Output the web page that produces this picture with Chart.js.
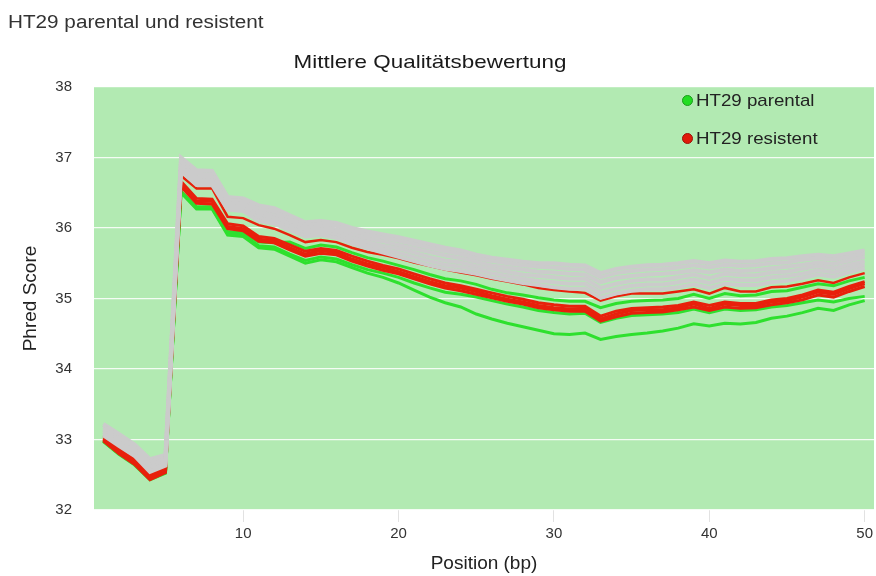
<!DOCTYPE html>
<html>
<head>
<meta charset="utf-8">
<script src="https://cdn.jsdelivr.net/npm/chart.js@4.4.1/dist/chart.umd.min.js"></script>
<style>
  html, body { margin: 0; padding: 0; background: #ffffff; }
  #wrap { position: relative; width: 876px; height: 576px; overflow: hidden; }
  #chart { position: absolute; left: 0; top: 0; }
  .txt { position: absolute; font-family: "Liberation Sans", Arial, sans-serif; white-space: nowrap; line-height: 20px; }
  #caption { left: 8px; top: 12px; font-size: 18px; color: #333; transform-origin: left center; transform: scaleX(1.15); }
  #title { left: 430px; top: 52px; font-size: 19px; color: #1a1a1a; transform: translateX(-50%) scaleX(1.18); }
  .leg { position: absolute; left: 682px; height: 20px; font-family: "Liberation Sans", Arial, sans-serif; font-size: 17px; color: #222; line-height: 20px; white-space: nowrap; }
  .leg .dot { position: absolute; left: 0; top: 4px; width: 11px; height: 11px; border-radius: 50%; box-sizing: border-box; }
  .leg .lab { position: absolute; left: 14px; top: 0; transform-origin: left center; transform: scaleX(1.1); }
</style>
</head>
<body>
<div id="wrap">
  <canvas id="chart" width="876" height="576"></canvas>
  <div id="caption" class="txt">HT29 parental und resistent</div>
  <div id="title" class="txt">Mittlere Qualitätsbewertung</div>
  <div class="leg" style="top:91px;"><span class="dot" style="background:#22dd22;border:1px solid #1a9a1a;"></span><span class="lab">HT29 parental</span></div>
  <div class="leg" style="top:129px;"><span class="dot" style="background:#e01a0a;border:1px solid #9a1006;"></span><span class="lab">HT29 resistent</span></div>
</div>
<script>
// Read positions along the read (bp)
const positions = [1,2,3,4,5,6,7,8,9,10,11,12,13,14,15,16,17,18,19,20,21,22,23,24,25,26,27,28,29,30,31,32,33,34,35,36,37,38,39,40,41,42,43,44,45,46,47,48,49,50];

// HT29 parental samples (mean Phred score per position)
const parentalA = [32.98,32.80,32.66,32.44,32.54,36.52,36.30,36.30,35.95,35.93,35.80,35.79,35.80,35.71,35.76,35.73,35.65,35.58,35.53,35.47,35.41,35.34,35.28,35.25,35.20,35.13,35.08,35.05,35.01,34.98,34.96,34.96,34.87,34.93,34.96,34.97,34.98,35.00,35.06,35.00,35.07,35.04,35.05,35.10,35.11,35.16,35.21,35.18,35.25,35.30];
const parentalB = [32.98,32.80,32.66,32.44,32.53,36.52,36.28,36.28,35.92,35.90,35.75,35.73,35.63,35.54,35.59,35.56,35.48,35.41,35.36,35.30,35.22,35.15,35.09,35.06,35.02,34.97,34.92,34.88,34.83,34.80,34.78,34.79,34.66,34.72,34.76,34.77,34.78,34.80,34.85,34.80,34.85,34.83,34.84,34.88,34.90,34.94,34.98,34.95,35.00,35.03];
const parentalC = [32.97,32.79,32.64,32.43,32.52,36.50,36.27,36.27,35.90,35.88,35.72,35.70,35.60,35.50,35.55,35.52,35.44,35.36,35.30,35.22,35.12,35.02,34.94,34.88,34.78,34.71,34.65,34.60,34.55,34.50,34.49,34.51,34.42,34.46,34.49,34.51,34.54,34.58,34.64,34.61,34.65,34.64,34.66,34.72,34.75,34.80,34.86,34.83,34.91,34.97];

// HT29 resistent samples
const resistentA = [33.05,32.87,32.72,32.50,32.60,36.74,36.56,36.56,36.16,36.14,36.04,35.99,35.90,35.80,35.83,35.80,35.72,35.66,35.62,35.57,35.51,35.46,35.41,35.37,35.33,35.28,35.24,35.20,35.15,35.12,35.10,35.08,34.97,35.03,35.07,35.07,35.07,35.10,35.13,35.07,35.15,35.10,35.10,35.16,35.17,35.21,35.26,35.22,35.30,35.36];
const resistentB = [33.02,32.85,32.70,32.48,32.57,36.66,36.42,36.41,36.06,36.03,35.88,35.85,35.76,35.67,35.71,35.68,35.60,35.53,35.47,35.42,35.35,35.28,35.22,35.18,35.13,35.08,35.03,34.99,34.94,34.91,34.89,34.89,34.75,34.82,34.86,34.87,34.88,34.90,34.95,34.90,34.95,34.93,34.93,34.98,35.00,35.05,35.12,35.09,35.17,35.24];
const resistentC = [33.00,32.82,32.68,32.45,32.55,36.62,36.38,36.38,36.02,35.99,35.84,35.82,35.72,35.63,35.68,35.65,35.56,35.49,35.44,35.38,35.31,35.24,35.18,35.15,35.10,35.04,34.99,34.95,34.90,34.87,34.85,34.86,34.71,34.78,34.83,34.84,34.84,34.87,34.92,34.86,34.92,34.90,34.90,34.95,34.97,35.02,35.09,35.06,35.14,35.21];
const resistentD = [32.98,32.80,32.65,32.43,32.53,36.59,36.35,36.34,35.99,35.96,35.81,35.79,35.69,35.60,35.64,35.62,35.53,35.46,35.40,35.35,35.28,35.21,35.15,35.11,35.06,35.01,34.96,34.92,34.87,34.84,34.82,34.82,34.68,34.74,34.79,34.80,34.81,34.84,34.88,34.83,34.88,34.86,34.87,34.91,34.94,34.98,35.05,35.02,35.10,35.17];

// Remaining samples of the run, shown in grey
const otherSample1 = [33.06,32.91,32.77,32.54,32.63,36.81,36.61,36.61,36.26,36.24,36.10,36.06,35.97,35.88,35.90,35.86,35.78,35.71,35.65,35.59,35.53,35.47,35.42,35.39,35.35,35.30,35.26,35.22,35.19,35.16,35.14,35.14,35.01,35.07,35.11,35.13,35.13,35.16,35.20,35.15,35.21,35.19,35.19,35.23,35.25,35.29,35.34,35.31,35.37,35.43];
const otherSample2 = [33.09,32.94,32.79,32.57,32.65,36.84,36.64,36.64,36.29,36.27,36.14,36.10,36.01,35.92,35.94,35.90,35.82,35.75,35.70,35.65,35.59,35.53,35.48,35.45,35.41,35.36,35.32,35.28,35.25,35.23,35.21,35.21,35.08,35.14,35.18,35.20,35.20,35.23,35.27,35.22,35.28,35.26,35.26,35.30,35.32,35.35,35.40,35.37,35.43,35.48];
const otherSample3 = [33.12,32.97,32.83,32.61,32.68,36.87,36.68,36.67,36.32,36.30,36.18,36.14,36.05,35.96,35.98,35.94,35.86,35.80,35.75,35.71,35.65,35.59,35.54,35.51,35.46,35.42,35.38,35.34,35.32,35.30,35.28,35.28,35.15,35.21,35.25,35.27,35.27,35.30,35.34,35.29,35.35,35.33,35.33,35.37,35.38,35.42,35.46,35.43,35.48,35.53];
const otherSample4 = [33.15,33.01,32.86,32.64,32.72,36.91,36.72,36.72,36.36,36.34,36.22,36.18,36.09,36.00,36.02,35.98,35.91,35.85,35.81,35.76,35.71,35.66,35.61,35.57,35.52,35.47,35.44,35.41,35.38,35.37,35.35,35.34,35.23,35.29,35.32,35.34,35.35,35.37,35.40,35.37,35.41,35.39,35.40,35.43,35.45,35.48,35.51,35.49,35.54,35.59];
const otherSample5 = [33.19,33.04,32.90,32.68,32.75,36.95,36.77,36.76,36.40,36.38,36.27,36.23,36.13,36.04,36.06,36.03,35.96,35.90,35.86,35.82,35.77,35.72,35.67,35.63,35.57,35.53,35.50,35.47,35.45,35.44,35.42,35.41,35.30,35.36,35.39,35.41,35.42,35.44,35.47,35.44,35.48,35.46,35.47,35.50,35.51,35.55,35.57,35.55,35.59,35.64];
const otherSample6 = [33.22,33.08,32.93,32.72,32.78,37.00,36.82,36.81,36.44,36.42,36.32,36.28,36.18,36.08,36.10,36.07,36.00,35.95,35.91,35.87,35.82,35.77,35.72,35.68,35.62,35.58,35.55,35.52,35.50,35.50,35.48,35.47,35.36,35.42,35.45,35.47,35.48,35.50,35.53,35.50,35.54,35.52,35.53,35.56,35.57,35.60,35.62,35.60,35.64,35.68];

// Axis ticks
const xTickValues = [10, 20, 30, 40, 50];
const yTickValues = [32, 33, 34, 35, 36, 37, 38];

const GREEN = '#2ee02e';
const RED = '#e8200c';
const GREY = '#cbcbcb';

function toPoints(values) {
  return positions.map((p, i) => ({ x: p, y: values[i] }));
}

function series(label, values, color, width, order) {
  return {
    label: label,
    data: toPoints(values),
    borderColor: color,
    backgroundColor: color,
    borderWidth: width,
    pointRadius: 0,
    tension: 0,
    fill: false,
    order: order
  };
}

const datasets = [
  series('Probe 1', otherSample1, GREY, 4, 0),
  series('Probe 2', otherSample2, GREY, 4, 0),
  series('Probe 3', otherSample3, GREY, 4, 0),
  series('Probe 4', otherSample4, GREY, 4, 0),
  series('Probe 5', otherSample5, GREY, 4, 0),
  series('Probe 6', otherSample6, GREY, 4, 0),
  series('HT29 resistent', resistentA, RED, 2.5, 1),
  series('HT29 resistent', resistentB, RED, 3, 1),
  series('HT29 resistent', resistentC, RED, 3, 1),
  series('HT29 resistent', resistentD, RED, 3, 1),
  series('HT29 parental', parentalA, GREEN, 3, 2),
  series('HT29 parental', parentalB, GREEN, 3, 2),
  series('HT29 parental', parentalC, GREEN, 3, 2)
];

// Light green plot background
const plotBackground = {
  id: 'plotBackground',
  beforeDraw(chart) {
    const { ctx, chartArea } = chart;
    ctx.save();
    ctx.fillStyle = '#b2eab2';
    ctx.fillRect(chartArea.left, chartArea.top, chartArea.right - chartArea.left, chartArea.bottom - chartArea.top);
    ctx.restore();
  }
};

const FONT = '"Liberation Sans", Arial, sans-serif';

new Chart(document.getElementById('chart'), {
  type: 'line',
  data: { datasets: datasets },
  plugins: [plotBackground],
  options: {
    responsive: false,
    animation: false,
    devicePixelRatio: 1,
    layout: { padding: { top: 87, right: 2, bottom: 0, left: 0 } },
    plugins: {
      legend: { display: false },
      title: { display: false },
      tooltip: { enabled: false }
    },
    scales: {
      x: {
        type: 'linear',
        min: 0.4,
        max: 50.6,
        afterBuildTicks(scale) { scale.ticks = xTickValues.map(v => ({ value: v })); },
        afterFit(scale) { scale.height = 66; scale.paddingLeft = 0; scale.paddingRight = 0; },
        border: { display: false },
        grid: { drawOnChartArea: false, drawTicks: true, tickLength: 12, tickColor: '#e2e2e2', lineWidth: 1 },
        ticks: { padding: 3, color: '#333', font: { family: FONT, size: 15 }, maxRotation: 0 },
        title: { display: true, text: 'Position (bp)', color: '#222', font: { family: FONT, size: 19 }, padding: { top: 0, bottom: 1 } }
      },
      y: {
        type: 'linear',
        min: 32,
        max: 38,
        afterBuildTicks(scale) { scale.ticks = yTickValues.map(v => ({ value: v })); },
        afterFit(scale) { scale.width = 94; scale.paddingTop = 0; scale.paddingBottom = 0; },
        border: { display: false },
        grid: { drawOnChartArea: true, drawTicks: false, color: 'rgba(255,255,255,0.85)', lineWidth: 1.2 },
        ticks: { padding: 22, color: '#333', font: { family: FONT, size: 15 } },
        title: { display: true, text: 'Phred Score', color: '#222', font: { family: FONT, size: 19 }, padding: { top: 19, bottom: 0 } }
      }
    }
  }
});
</script>
</body>
</html>
